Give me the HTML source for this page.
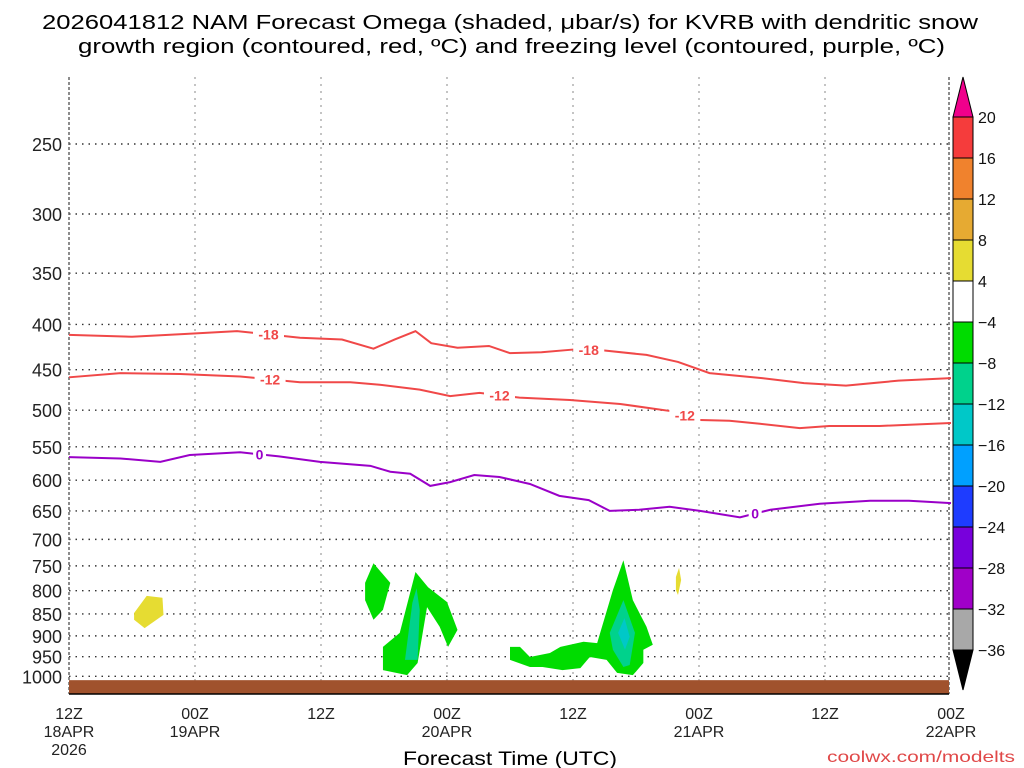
<!DOCTYPE html>
<html><head><meta charset="utf-8"><style>
body{margin:0;background:#fff;}
svg{display:block;font-family:"Liberation Sans","DejaVu Sans",sans-serif;}
</style></head><body>
<svg id="chart" width="1024" height="768" viewBox="0 0 1024 768">
<text x="42" y="29" font-size="20" textLength="936" lengthAdjust="spacingAndGlyphs">2026041812 NAM Forecast Omega (shaded, μbar/s) for KVRB with dendritic snow</text>
<text x="78" y="53" font-size="20" textLength="867" lengthAdjust="spacingAndGlyphs">growth region (contoured, red, ºC) and freezing level (contoured, purple, ºC)</text>
<g id="grid"></g>
<g id="shades"></g>
<g id="lines"></g>
<g id="yaxis"></g>
<g id="xaxis"></g>
<g id="cbar"></g>
<text x="403" y="765" font-size="19.5" textLength="214" lengthAdjust="spacingAndGlyphs">Forecast Time (UTC)</text>
<text x="827" y="762" font-size="16" textLength="188" lengthAdjust="spacingAndGlyphs" fill="#e04848">coolwx.com/modelts</text>
</svg>
<script>
const pLevels=[250,300,350,400,450,500,550,600,650,700,750,800,850,900,950,1000];
const xTickHours=[0,12,24,36,48,60,72,84];
const xTickTop=["12Z","00Z","12Z","00Z","12Z","00Z","12Z","00Z"];
const xTickMid=["18APR","19APR","","20APR","","21APR","","22APR"];
const xTickBot=["2026","","","","","","",""];
const hoursM18=[0,6,11,16,22,26,29,31,33,34.5,37,40,42,45,48,51,55,58,61,66,70,74,79,84];
const presM18=[411,413,410,407,414,416,426,416,407,420,425,423,431,430,427,428,433,441,454,460,466,469,463,460];
const hoursM12=[0,4.9,10.6,16.3,22,26.8,29.6,33.4,36.3,39.1,42.9,47.7,52.5,57.2,60.1,62.9,65.8,69.6,72.4,77.2,84];
const presM12=[459,454,455,458,465,465,468,474,482,478,484,487,492,501,513,514,518,524,521,521,517];
const hours0=[0,4.9,8.7,11.5,16.3,20,23.9,28.7,30.6,32.5,34.4,36.3,38.6,41,43.9,46.7,49.5,51.5,54.3,57.2,60.1,63.9,66.8,71.5,76.3,80,84];
const pres0=[565,567,572,562,558,564,572,578,587,590,609,603,592,595,606,625,632,650,648,643,650,661,648,638,633,633,637];
const cbLevels=["20","16","12","8","4","−4","−8","−12","−16","−20","−24","−28","−32","−36"];
const cbColors=["#f53c3c","#f0822d","#e6aa32","#e6dc32","#ffffff","#00dc00","#00d28c","#00c8c8","#00a0ff","#1e3cff","#7800dc","#a000c8","#a8a8a8"];
const shadeGreen1=[[28.2,784],[29.0,745],[30.6,784],[29.9,841],[29.0,863],[28.2,820]];
const shadeGreen2=[[29.9,926],[31.5,893],[33.0,762],[34.2,793],[36.0,824],[37.0,886],[36.1,926],[35.3,879],[34.1,835],[33.2,966],[32.2,997],[29.9,984]];
const shadeTeal2=[[32.0,958],[32.7,826],[33.1,795],[33.4,841],[33.2,958]];
const shadeGreen3=[[42.0,926],[42.95,926],[43.9,951],[45.8,941],[46.8,926],[49.0,914],[50.3,917],[51.8,799],[52.8,739],[53.7,820],[55.0,879],[55.6,921],[54.7,933],[54.7,966],[53.7,997],[52.2,991],[51.2,958],[49.6,951],[48.7,979],[47.0,984],[45.1,976],[43.9,976],[42.0,958]];
const shadeTeal3=[[51.5,893],[52.8,820],[53.9,893],[53.4,971],[52.8,976],[51.8,933]];
const shadeCyan3=[[52.3,893],[52.9,859],[53.4,902],[52.95,933]];
const shadeYellow1=[[6.2,848],[7.4,811],[8.9,815],[9.0,852],[7.2,882],[6.2,863]];
const shadeYellow2=[[57.8,772],[58.1,754],[58.3,778],[58.0,809],[57.8,799]];
const groundP=1010;

const X0=69,X1=949,PXH=10.5;
const xs=h=>X0+h*PXH;
const ys=p=>144+384*Math.log(p/250);
const NS="http://www.w3.org/2000/svg";
function mk(tag,parent,attrs){const e=document.createElementNS(NS,tag);for(const k in attrs)e.setAttribute(k,attrs[k]);parent.appendChild(e);return e;}
const grid=document.getElementById('grid');
pLevels.forEach(p=>{
  const l=mk('line',grid,{x1:X0,x2:X1,y1:ys(p),y2:ys(p),stroke:'#333','stroke-width':1.4,'stroke-dasharray':'1.5 5'});
  
  
});
xTickHours.forEach(h=>{
  if(h===0||h===84)return;
  const l=mk('line',grid,{x1:xs(h),x2:xs(h),y1:77,y2:694,stroke:'#aaa','stroke-width':1.4,'stroke-dasharray':'2 5'});
  
  
});
[X0,X1].forEach(x=>{
  const l=mk('line',grid,{x1:x,x2:x,y1:77,y2:694,stroke:'#666','stroke-width':1.5,'stroke-dasharray':'3 2'});
  
  
});
const sh=document.getElementById('shades');
function poly(arr,fill,name){
  const pg=mk('polygon',sh,{points:arr.map(d=>xs(d[0])+','+ys(d[1])).join(' '),fill:fill});
  
  
}
poly(shadeYellow1,'#e6dc32','omega-positive-area');
poly(shadeYellow2,'#e6dc32','omega-positive-area');
poly(shadeGreen1,'#00dc00','omega-negative-area');
poly(shadeGreen2,'#00dc00','omega-negative-area');
poly(shadeTeal2,'#00d28c','omega-strong-area');
poly(shadeGreen3,'#00dc00','omega-negative-area');
poly(shadeTeal3,'#00d28c','omega-strong-area');
poly(shadeCyan3,'#00c8c8','omega-stronger-area');
const gr=mk('rect',sh,{x:X0,y:ys(groundP),width:X1-X0,height:694-ys(groundP),fill:'#a0522d'});


mk('line',sh,{x1:X0,x2:X1,y1:694,y2:694,stroke:'#000','stroke-width':1.5});

const ln=document.getElementById('lines');
function contour(hs,ps,color,name,labels,txt){
  const pl=mk('polyline',ln,{points:hs.map((h,i)=>xs(h)+','+ys(ps[i])).join(' '),fill:'none',stroke:color,'stroke-width':2});
  
  
  labels.forEach(i=>{
    const h=(hs[i]+hs[i+1])/2,p=(ps[i]+ps[i+1])/2;
    const w=txt.length*9+4;
    mk('rect',ln,{x:xs(h)-w/2,y:ys(p)-7,width:w,height:14,fill:'#fff'});
    const t=mk('text',ln,{x:xs(h),y:ys(p)+5,'font-size':14,'font-weight':'bold','text-anchor':'middle',fill:color});
    t.textContent=txt;
    
    
  });
}
contour(hoursM18,presM18,'#f04848','contour-minus18',[3,14],'-18');
contour(hoursM12,presM12,'#f04848','contour-minus12',[3,9,13],'-12');
contour(hours0,pres0,'#9a00c8','freezing-level-0',[4,21],'0');

const ya=document.getElementById('yaxis');
pLevels.forEach(p=>{
  const t=mk('text',ya,{x:62,y:ys(p)+7,'font-size':18,'text-anchor':'end',fill:'#222'});
  t.textContent=p;
  
  
});
const xa=document.getElementById('xaxis');
xTickHours.forEach((h,i)=>{
  [[xTickTop[i],719],[xTickMid[i],737],[xTickBot[i],755]].forEach(([s,y])=>{
    if(!s)return;
    const t=mk('text',xa,{x:xs(h),y:y,'font-size':16,'text-anchor':'middle',fill:'#222'});
    t.textContent=s;
    
    
  });
});
const cb=document.getElementById('cbar');
const CX=953,CW=20,CT=117,CH=41;
mk('polygon',cb,{points:`${CX},${CT} ${CX+CW},${CT} ${CX+CW/2},77`,fill:'#f0008c',stroke:'#000'});
cbColors.forEach((c,i)=>{
  const r=mk('rect',cb,{x:CX,y:CT+i*CH,width:CW,height:CH,fill:c,stroke:'#000','stroke-width':1});
  
  
});
const cbB=CT+cbColors.length*CH;
mk('polygon',cb,{points:`${CX},${cbB} ${CX+CW},${cbB} ${CX+CW/2},${cbB+40}`,fill:'#000',stroke:'#000'});
cbLevels.forEach((s,i)=>{
  const t=mk('text',cb,{x:978,y:CT+i*CH+6,'font-size':16,fill:'#111'});
  t.textContent=s;
  
  
});
</script>
</body></html>
